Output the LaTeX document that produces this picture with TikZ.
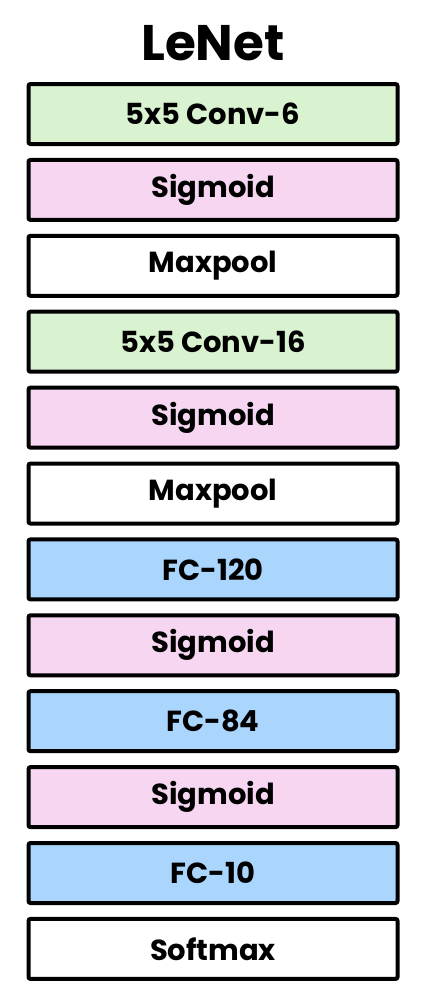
\documentclass[tikz,border=0pt]{standalone}
\usepackage{fontspec}
\setmainfont{Poppins}
\usetikzlibrary{positioning}
\definecolor{convgreen}{RGB}{217,242,208}
\definecolor{actpink}{RGB}{246,214,241}
\definecolor{fcblue}{RGB}{170,213,252}
\tikzset{
  layer/.style={draw=black,line width=4pt,rounded corners=2pt,outer sep=0pt,inner sep=0pt,
    minimum width=369pt,minimum height=60pt,font=\fontsize{29}{34}\selectfont\bfseries},
  conv/.style={layer,fill=convgreen},
  act/.style={layer,fill=actpink},
  pool/.style={layer,fill=white},
  fc/.style={layer,fill=fcblue},
  ttl/.style={font=\fontsize{50}{58}\selectfont\bfseries,anchor=base,inner sep=0pt}
}

\begin{document}
\begin{tikzpicture}[x=1pt,y=-1pt,node distance=15.9pt]
  \useasboundingbox (0,0) rectangle (425,1005);
  \node[ttl] (title) at (213,60) {LeNet};
  \node[conv] (c1) at (213,114) {5x5 Conv-6};
  \node[act,below=of c1] (s1) {Sigmoid};
  \node[pool,below=of s1] (p1) {Maxpool};
  \node[conv,below=of p1] (c2) {5x5 Conv-16};
  \node[act,below=of c2] (s2) {Sigmoid};
  \node[pool,below=of s2] (p2) {Maxpool};
  \node[fc,below=of p2] (f1) {FC-120};
  \node[act,below=of f1] (s3) {Sigmoid};
  \node[fc,below=of s3] (f2) {FC-84};
  \node[act,below=of f2] (s4) {Sigmoid};
  \node[fc,below=of s4] (f3) {FC-10};
  \node[pool,below=of f3] (out) {Softmax};
\end{tikzpicture}
\end{document}
